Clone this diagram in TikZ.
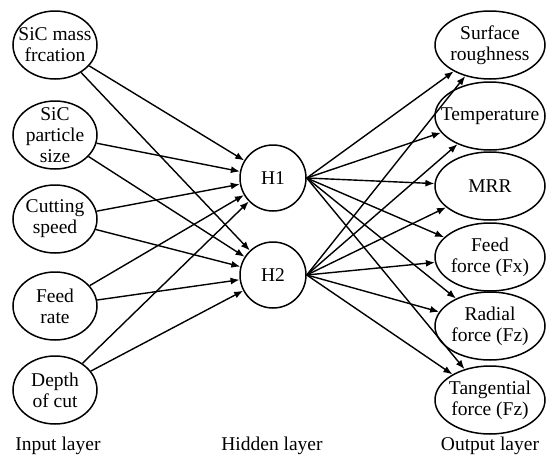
\documentclass[tikz,border=0pt]{standalone}
\usepackage{fontspec}
\setmainfont{Liberation Serif}
\usetikzlibrary{shapes.geometric,arrows.meta}
\begin{document}
\begin{tikzpicture}[x=1pt,y=-1pt,
  txt/.style={font=\fontsize{19.5}{21}\selectfont, align=center},
  inp/.style={txt, ellipse, draw, line width=1.5pt, minimum width=84pt, minimum height=68pt, inner sep=-20pt},
  outp/.style={txt, ellipse, draw, line width=1.5pt, minimum width=110pt, minimum height=68pt, inner sep=-20pt},
  hid/.style={txt, circle, draw, line width=1.5pt, minimum size=66pt, inner sep=0pt},
  conn/.style={line width=1.4pt, -{Latex[length=9pt,width=7pt]}}]
\useasboundingbox (0,0) rectangle (547,456);
\node[inp] (i1) at (55,45) {SiC mass\\frcation};
\node[inp] (i2) at (55,135) {SiC\\particle\\size};
\node[inp] (i3) at (55,219) {Cutting\\speed};
\node[inp] (i4) at (55,306) {Feed\\rate};
\node[inp] (i5) at (55,390) {Depth\\of cut};
\node[hid] (h1) at (273,178) {H1};
\node[hid] (h2) at (273,275) {H2};
\node[outp] (o1) at (490,45) {Surface\\roughness};
\node[outp] (o2) at (490,116) {Temperature};
\node[outp] (o3) at (490,186) {MRR};
\node[outp] (o4) at (490,257) {Feed\\force (Fx)};
\node[outp] (o5) at (490,326) {Radial\\force (Fz)};
\node[outp] (o6) at (490,400) {Tangential\\force (Fz)};
\node[txt] (l1) at (58,446) {Input layer};
\node[txt] (l2) at (272,446) {Hidden layer};
\node[txt] (l3) at (490,446) {Output layer};
\foreach \i in {1,...,5}{
  \draw[conn] (i\i) -- (h1);
  \draw[conn] (i\i) -- (h2);
}
\foreach \o in {1,...,6}{
  \draw[conn] (h1.east) -- (o\o);
  \draw[conn] (h2.east) -- (o\o);
}
\end{tikzpicture}
\end{document}
